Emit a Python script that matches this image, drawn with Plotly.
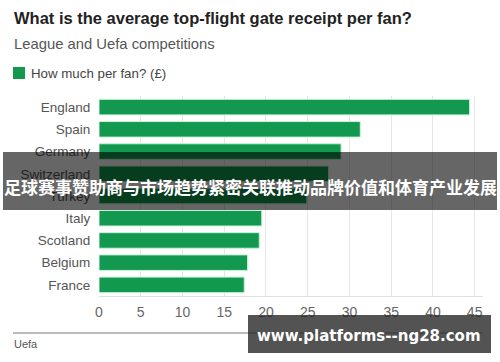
import plotly.graph_objects as go

countries = ["England", "Spain", "Germany", "Switzerland", "Turkey", "Italy", "Scotland", "Belgium", "France"]
per_fan = [44.4, 31.3, 29.0, 27.5, 24.9, 19.5, 19.2, 17.8, 17.4]
x_ticks = [0, 5, 10, 15, 20, 25, 30, 35, 40, 45]

green = "#12994f"

fig = go.Figure()
fig.add_trace(go.Bar(
    y=countries, x=per_fan, orientation="h",
    marker=dict(color=green, line=dict(color="#c8f5d8", width=1)),
    name="How much per fan? (£)", showlegend=False,
))

fig.update_layout(
    width=500, height=362,
    margin=dict(l=99, r=17, t=96, b=66),
    paper_bgcolor="white", plot_bgcolor="white",
    font=dict(family="Liberation Sans, Arial, sans-serif", color="#555"),
    bargap=0.3,
    xaxis=dict(range=[0, 46], tickvals=x_ticks, showgrid=True, gridcolor="#e6e6e6",
               zeroline=False, showline=True, linecolor="#e0e0e0",
               tickfont=dict(size=14, color="#666"), ticks="outside", ticklen=3,
               tickcolor="rgba(0,0,0,0)", fixedrange=True),
    yaxis=dict(categoryorder="array", categoryarray=countries[::-1],
               tickfont=dict(size=13.5, color="#555"), ticks="outside", ticklen=5,
               tickcolor="rgba(0,0,0,0)", showgrid=False, fixedrange=True),
    showlegend=False,
)

# title, subtitle, legend
fig.add_annotation(text="<b>What is the average top-flight gate receipt per fan?</b>",
                   xref="paper", yref="paper", x=-87/384, y=1 + 78/200, xanchor="left", yanchor="middle",
                   showarrow=False, font=dict(size=16.5, color="#222"))
fig.add_annotation(text="League and Uefa competitions", xref="paper", yref="paper",
                   x=-87/384, y=1 + 52/200, xanchor="left", yanchor="middle",
                   showarrow=False, font=dict(size=14.8, color="#555"))
fig.add_shape(type="rect", xref="paper", yref="paper",
              x0=-86/384, x1=-74/384, y0=1 + 17/200, y1=1 + 29/200,
              fillcolor=green, line=dict(width=0))
fig.add_annotation(text="How much per fan? (£)", xref="paper", yref="paper",
                   x=-70/384, y=1 + 23/200, xanchor="left", yanchor="middle",
                   showarrow=False, font=dict(size=13.3, color="#444"))

# footer
fig.add_shape(type="line", xref="paper", yref="paper",
              x0=-86/384, x1=384/384, y0=-37/200, y1=-37/200,
              line=dict(color="#777", width=1))
fig.add_annotation(text="Uefa", xref="paper", yref="paper", x=-87/384, y=-48/200,
                   xanchor="left", yanchor="middle", showarrow=False,
                   font=dict(size=11, color="#555"))

# overlay band with Chinese text
fig.add_shape(type="rect", xref="paper", yref="paper",
              x0=-96/384, x1=398/384, y0=(296-210)/200, y1=(296-152)/200,
              fillcolor="rgba(0,0,0,0.6)", line=dict(width=0), layer="above")
fig.add_annotation(text="<b>足球赛事赞助商与市场趋势紧密关联推动品牌价值和体育产业发展</b>",
                   xref="paper", yref="paper", x=(250-99)/384, y=(296-186)/200,
                   xanchor="center", yanchor="middle", showarrow=False,
                   font=dict(size=17, color="white", family="Noto Sans CJK SC"))

# watermark box bottom right
fig.add_shape(type="rect", xref="paper", yref="paper",
              x0=(248-99)/384, x1=(491-99)/384, y0=(296-353)/200, y1=(296-315)/200,
              fillcolor="rgba(40,40,40,0.8)", line=dict(width=0), layer="above")
fig.add_annotation(text="<b>www.platforms--ng28.com</b>", xref="paper", yref="paper",
                   x=(369-99)/384, y=(296-336)/200, xanchor="center", yanchor="middle",
                   showarrow=False, font=dict(size=15, color="white", family="DejaVu Sans"))

fig.write_html("out.html", config={"displayModeBar": False},
               post_script="document.body.style.margin='0';")
